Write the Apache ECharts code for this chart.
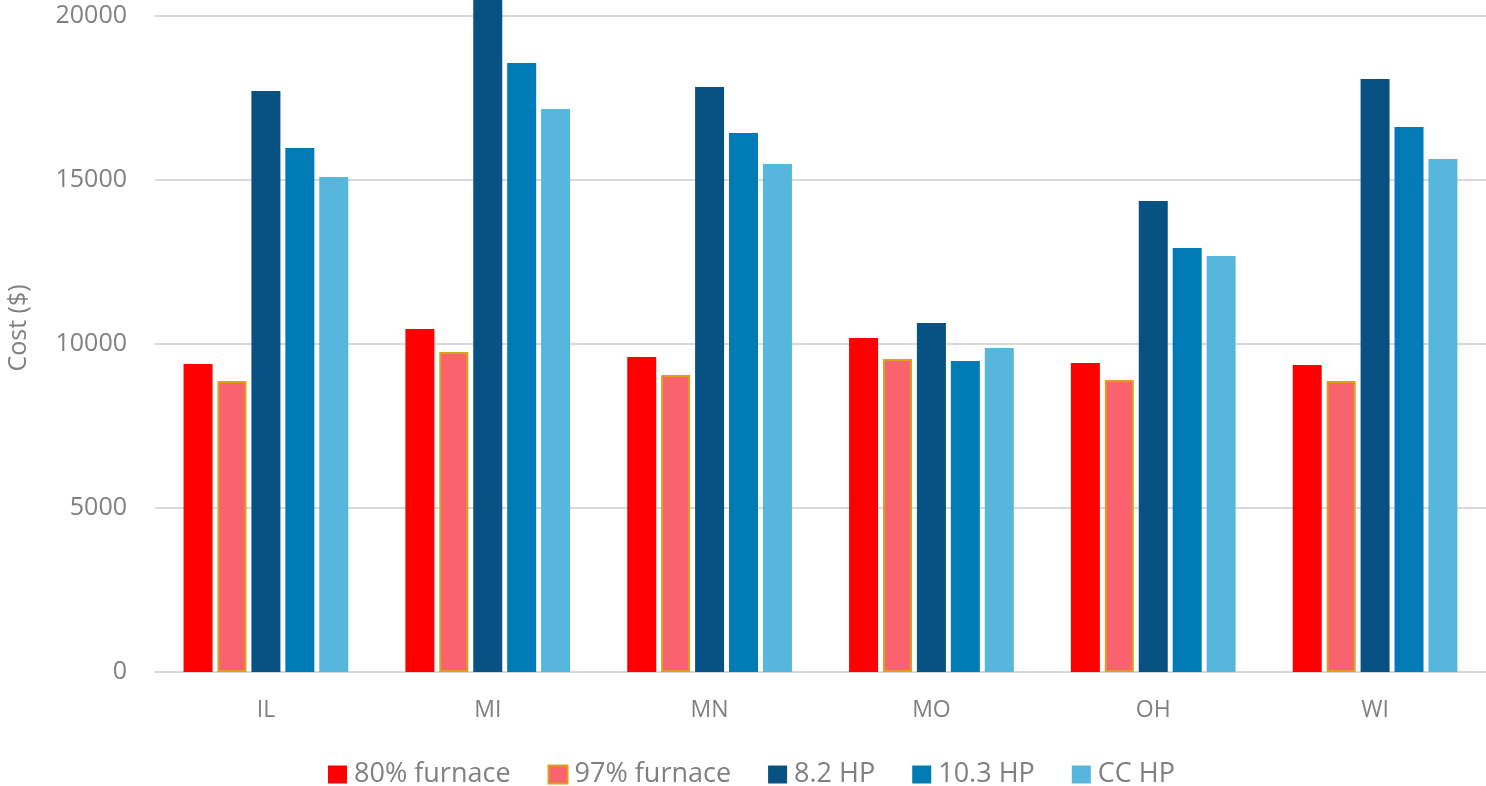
<!DOCTYPE html>
<html>
<head>
<meta charset="utf-8">
<script src="https://cdn.jsdelivr.net/npm/echarts@6/dist/echarts.min.js"></script>
<style>html,body{margin:0;padding:0;background:#fff}#c{width:1486px;height:786px}</style>
</head>
<body>
<div id="c"></div>
<script>
const categories = ['IL', 'MI', 'MN', 'MO', 'OH', 'WI'];
const furnace80 = [9390, 10457, 9604, 10183, 9421, 9360];
const furnace97 = [8872, 9756, 9055, 9543, 8902, 8872];
const hp82 = [17714, 21000, 17835, 10640, 14360, 18079];
const hp103 = [15976, 18567, 16433, 9482, 12927, 16616];
const ccHP = [15091, 17165, 15488, 9878, 12683, 15640];
const yTicks = [0, 5000, 10000, 15000, 20000];

const font = '"Open Sans", sans-serif';
const gray = '#808080';
const chart = echarts.init(document.getElementById('c'));
const mk = (name, data, color, extra) => Object.assign({
  name, type: 'bar', data, barWidth: 29, barGap: '17%', clip: false,
  itemStyle: { color }
}, extra || {});
chart.setOption({
  animation: false,
  grid: { left: 155, right: 0, top: 16, bottom: 114, containLabel: false },
  legend: {
    top: 756, left: 323, itemWidth: 19, itemHeight: 18, itemGap: 37, icon: 'rect',
    textStyle: { fontFamily: font, fontSize: 27, color: gray, padding: [0, 0, 0, 2] },
    data: ['80% furnace', '97% furnace', '8.2 HP', '10.3 HP', 'CC HP']
  },
  graphic: [{
    type: 'text', x: 19, y: 328, rotation: Math.PI / 2,
    style: { text: 'Cost ($)', fontFamily: font, fontSize: 25, fill: gray, align: 'center', verticalAlign: 'middle' }
  }],
  xAxis: {
    type: 'category', data: categories,
    axisLine: { lineStyle: { color: '#d9d9d9', width: 2 } },
    axisTick: { show: false },
    axisLabel: { fontFamily: font, fontSize: 23, color: gray, margin: 27 }
  },
  yAxis: {
    type: 'value', min: yTicks[0], max: yTicks[yTicks.length - 1], interval: 5000,
    axisLine: { show: false }, axisTick: { show: false },
    axisLabel: { fontFamily: font, fontSize: 25, color: gray, margin: 28, formatter: v => String(v) },
    splitLine: { lineStyle: { color: '#d9d9d9', width: 2 } }
  },
  series: [
    mk('80% furnace', furnace80, '#ff0000'),
    mk('97% furnace', furnace97, '#f9636e', { itemStyle: { color: '#f9636e', borderColor: '#d9a21a', borderWidth: 2 } }),
    mk('8.2 HP', hp82, '#085283'),
    mk('10.3 HP', hp103, '#007bb6'),
    mk('CC HP', ccHP, '#57b6db')
  ]
});
</script>
</body>
</html>
